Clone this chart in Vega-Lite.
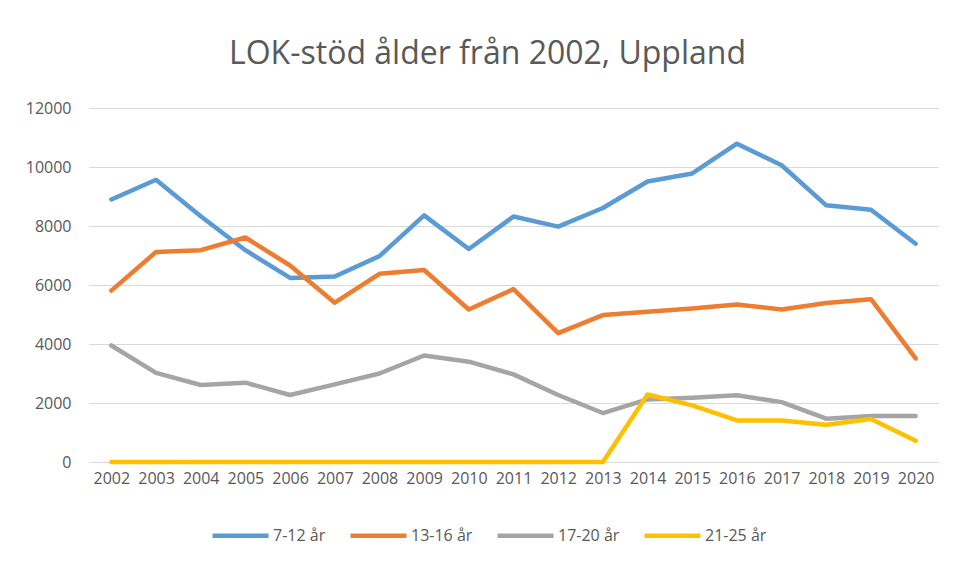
{
  "$schema": "https://vega.github.io/schema/vega-lite/v6.json",
  "autosize": {"type": "none"},
  "width": 849,
  "height": 354,
  "padding": {"left": 89, "top": 108, "right": 22, "bottom": 102},
  "background": "white",
  "title": {
    "text": "LOK-stöd ålder från 2002, Uppland",
    "font": "Open Sans",
    "fontSize": 32,
    "fontWeight": "normal",
    "color": "#595959",
    "anchor": "middle",
    "baseline": "alphabetic",
    "dx": -26,
    "offset": 4
  },
  "data": {
    "values": [
      {"year": "2002", "group": "7-12 år", "value": 8900},
      {"year": "2003", "group": "7-12 år", "value": 9570},
      {"year": "2004", "group": "7-12 år", "value": 8330},
      {"year": "2005", "group": "7-12 år", "value": 7180},
      {"year": "2006", "group": "7-12 år", "value": 6240},
      {"year": "2007", "group": "7-12 år", "value": 6290},
      {"year": "2008", "group": "7-12 år", "value": 6980},
      {"year": "2009", "group": "7-12 år", "value": 8360},
      {"year": "2010", "group": "7-12 år", "value": 7220},
      {"year": "2011", "group": "7-12 år", "value": 8320},
      {"year": "2012", "group": "7-12 år", "value": 7980},
      {"year": "2013", "group": "7-12 år", "value": 8610},
      {"year": "2014", "group": "7-12 år", "value": 9510},
      {"year": "2015", "group": "7-12 år", "value": 9780},
      {"year": "2016", "group": "7-12 år", "value": 10790},
      {"year": "2017", "group": "7-12 år", "value": 10060},
      {"year": "2018", "group": "7-12 år", "value": 8700},
      {"year": "2019", "group": "7-12 år", "value": 8550},
      {"year": "2020", "group": "7-12 år", "value": 7400},
      {"year": "2002", "group": "13-16 år", "value": 5810},
      {"year": "2003", "group": "13-16 år", "value": 7120},
      {"year": "2004", "group": "13-16 år", "value": 7180},
      {"year": "2005", "group": "13-16 år", "value": 7610},
      {"year": "2006", "group": "13-16 år", "value": 6660},
      {"year": "2007", "group": "13-16 år", "value": 5400},
      {"year": "2008", "group": "13-16 år", "value": 6380},
      {"year": "2009", "group": "13-16 år", "value": 6510},
      {"year": "2010", "group": "13-16 år", "value": 5170},
      {"year": "2011", "group": "13-16 år", "value": 5860},
      {"year": "2012", "group": "13-16 år", "value": 4370},
      {"year": "2013", "group": "13-16 år", "value": 4980},
      {"year": "2014", "group": "13-16 år", "value": 5090},
      {"year": "2015", "group": "13-16 år", "value": 5200},
      {"year": "2016", "group": "13-16 år", "value": 5340},
      {"year": "2017", "group": "13-16 år", "value": 5170},
      {"year": "2018", "group": "13-16 år", "value": 5390},
      {"year": "2019", "group": "13-16 år", "value": 5520},
      {"year": "2020", "group": "13-16 år", "value": 3510},
      {"year": "2002", "group": "17-20 år", "value": 3950},
      {"year": "2003", "group": "17-20 år", "value": 3020},
      {"year": "2004", "group": "17-20 år", "value": 2610},
      {"year": "2005", "group": "17-20 år", "value": 2690},
      {"year": "2006", "group": "17-20 år", "value": 2270},
      {"year": "2007", "group": "17-20 år", "value": 2630},
      {"year": "2008", "group": "17-20 år", "value": 3000},
      {"year": "2009", "group": "17-20 år", "value": 3610},
      {"year": "2010", "group": "17-20 år", "value": 3400},
      {"year": "2011", "group": "17-20 år", "value": 2970},
      {"year": "2012", "group": "17-20 år", "value": 2270},
      {"year": "2013", "group": "17-20 år", "value": 1660},
      {"year": "2014", "group": "17-20 år", "value": 2120},
      {"year": "2015", "group": "17-20 år", "value": 2180},
      {"year": "2016", "group": "17-20 år", "value": 2260},
      {"year": "2017", "group": "17-20 år", "value": 2030},
      {"year": "2018", "group": "17-20 år", "value": 1470},
      {"year": "2019", "group": "17-20 år", "value": 1560},
      {"year": "2020", "group": "17-20 år", "value": 1560},
      {"year": "2002", "group": "21-25 år", "value": 0},
      {"year": "2003", "group": "21-25 år", "value": 0},
      {"year": "2004", "group": "21-25 år", "value": 0},
      {"year": "2005", "group": "21-25 år", "value": 0},
      {"year": "2006", "group": "21-25 år", "value": 0},
      {"year": "2007", "group": "21-25 år", "value": 0},
      {"year": "2008", "group": "21-25 år", "value": 0},
      {"year": "2009", "group": "21-25 år", "value": 0},
      {"year": "2010", "group": "21-25 år", "value": 0},
      {"year": "2011", "group": "21-25 år", "value": 0},
      {"year": "2012", "group": "21-25 år", "value": 0},
      {"year": "2013", "group": "21-25 år", "value": 0},
      {"year": "2014", "group": "21-25 år", "value": 2290},
      {"year": "2015", "group": "21-25 år", "value": 1920},
      {"year": "2016", "group": "21-25 år", "value": 1410},
      {"year": "2017", "group": "21-25 år", "value": 1410},
      {"year": "2018", "group": "21-25 år", "value": 1260},
      {"year": "2019", "group": "21-25 år", "value": 1460},
      {"year": "2020", "group": "21-25 år", "value": 720}
    ]
  },
  "mark": {"type": "line", "strokeWidth": 4.5, "strokeCap": "round", "strokeJoin": "round"},
  "encoding": {
    "x": {
      "field": "year",
      "type": "ordinal",
      "scale": {"type": "point", "padding": 0.5},
      "axis": {
        "title": null,
        "labelAngle": 0,
        "ticks": false,
        "domain": false,
        "grid": false,
        "labelPadding": 8,
        "labelFont": "Open Sans",
        "labelFontSize": 16,
        "labelColor": "#595959"
      }
    },
    "y": {
      "field": "value",
      "type": "quantitative",
      "scale": {"domain": [0, 12000]},
      "axis": {
        "title": null,
        "values": [0, 2000, 4000, 6000, 8000, 10000, 12000],
        "format": "d",
        "ticks": false,
        "domain": false,
        "gridColor": "#d9d9d9",
        "gridWidth": 1,
        "labelPadding": 18,
        "labelFont": "Open Sans",
        "labelFontSize": 16,
        "labelColor": "#595959"
      }
    },
    "color": {
      "field": "group",
      "type": "nominal",
      "sort": ["7-12 år", "13-16 år", "17-20 år", "21-25 år"],
      "scale": {
        "domain": ["7-12 år", "13-16 år", "17-20 år", "21-25 år"],
        "range": ["#5B9BD5", "#ED7D31", "#A5A5A5", "#FFC000"]
      },
      "legend": {
        "title": null,
        "orient": "none",
        "direction": "horizontal",
        "legendX": 121,
        "legendY": 397,
        "symbolType": "stroke",
        "symbolSize": 3136,
        "symbolStrokeWidth": 4.5,
        "labelFont": "Open Sans",
        "labelFontSize": 16,
        "labelColor": "#595959",
        "labelOffset": 2,
        "columnPadding": 15
      }
    }
  },
  "config": {"view": {"stroke": null}}
}
